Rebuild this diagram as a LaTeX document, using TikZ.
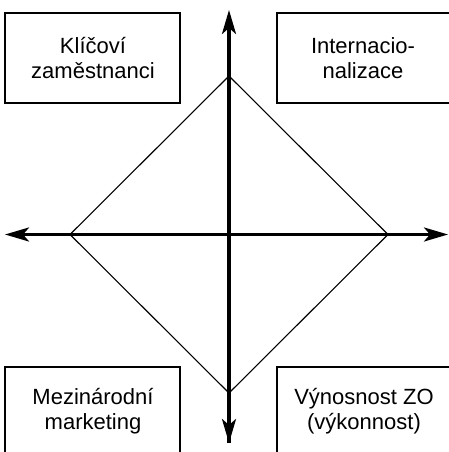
\documentclass[tikz,border=0pt]{standalone}
\usepackage{fontspec}
\setmainfont{Liberation Sans}
\usetikzlibrary{arrows.meta}
\begin{document}
\begin{tikzpicture}[x=1pt,y=-1pt,
  axis/.style={line width=3.1pt,-{Stealth[length=24pt,width=14pt,inset=6pt]}},
  thin line/.style={line width=1.1pt,line join=miter},
  frame/.style={line width=1.1pt,line join=miter},
  label/.style={align=center,inner sep=0pt,font=\fontsize{22}{25}\selectfont}]
  \useasboundingbox (0,0) rectangle (449,452);

  % quadrant frames (the right and bottom ones run off the page edge)
  \draw[frame] (5,13) rectangle (180,103);
  \draw[frame] (449,13) -- (277,13) -- (277,103) -- (449,103);
  \draw[frame] (5,452) -- (5,367) -- (180,367) -- (180,452);
  \draw[frame] (449,367) -- (277,367) -- (277,452);

  % quadrant labels
  \node[label] (tl) at (93,58) {Klíčoví\\zaměstnanci};
  \node[label] (tr) at (363,58) {Internacio-\\nalizace};
  \node[label] (bl) at (93,411) {Mezinárodní\\marketing};
  \node[label] (br) at (364,411) {Výnosnost ZO\\(výkonnost)};

  % diamond corners
  \coordinate (top) at (229,76);
  \coordinate (bottom) at (229,393);
  \coordinate (left) at (70,234.5);
  \coordinate (right) at (388,234.5);
  \draw[thin line] (top) -- (right) -- (bottom) -- (left) -- cycle;

  % axes
  \coordinate (n) at (229,10);
  \coordinate (s) at (229,443);
  \coordinate (w) at (5,234.5);
  \coordinate (e) at (448,234.5);
  \coordinate (c) at (229,234.5);
  \draw[axis] (s) -- (n);
  \draw[axis] (c) -- (w);
  \draw[axis] (c) -- (e);
  \draw[axis] (c) -- (s);
\end{tikzpicture}
\end{document}
